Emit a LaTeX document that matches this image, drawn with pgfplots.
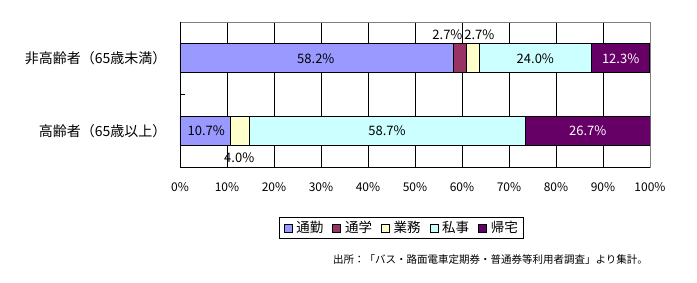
\documentclass[border=0pt]{standalone}
\usepackage{pgfplots}
\pgfplotsset{compat=1.18}
\usepackage{fontspec}
\setmainfont{Noto Sans CJK JP}
\definecolor{cA}{HTML}{9999FF}
\definecolor{cB}{HTML}{993366}
\definecolor{cC}{HTML}{FFFFCC}
\definecolor{cD}{HTML}{CCFFFF}
\definecolor{cE}{HTML}{660066}
\begin{document}
\begin{tikzpicture}
\useasboundingbox (0,0) rectangle (697pt,282pt);
\begin{axis}[
  at={(180pt,115pt)}, anchor=south west,
  scale only axis, width=470pt, height=145pt,
  xbar stacked, bar width=29pt,
  xmin=0, xmax=100, ymin=-0.5, ymax=1.5,
  xtick={0,10,...,90},
  extra x ticks={100}, extra x tick style={grid=none},
  xticklabel={\pgfmathprintnumber{\tick}\%},
  /pgf/number format/assume math mode=true,
  xticklabel style={font=\fontsize{12}{12}\selectfont, yshift=-12pt},
  xmajorgrids, grid style={black, line width=0.8pt},
  xtick style={draw=none},
  ytick={0,1},
  yticklabels={高齢者（65歳以上）, 非高齢者（65歳未満）},
  yticklabel style={font=\fontsize{14}{14}\selectfont, xshift=-10pt},
  ytick style={draw=none},
  axis line style={gray, line width=0.8pt},
  legend columns=5,
  legend style={at={(0.472,-0.42)}, anchor=center, draw=black, line width=0.8pt,
    font=\fontsize{13.5}{13.5}\selectfont, inner xsep=4pt, inner ysep=2pt,
    /tikz/every odd column/.append style={column sep=2pt},
    /tikz/every even column/.append style={column sep=7pt}},
  legend image code/.code={\draw[#1, draw=black, line width=0.6pt] (0pt,-4pt) rectangle (8pt,4pt);},
]
\addplot[fill=cA, draw=black, line width=0.8pt] coordinates {(58.2,1) (10.7,0)};
\addplot[fill=cB, draw=black, line width=0.8pt] coordinates {(2.7,1) (0,0)};
\addplot[fill=cC, draw=black, line width=0.8pt] coordinates {(2.7,1) (4.0,0)};
\addplot[fill=cD, draw=black, line width=0.8pt] coordinates {(24.0,1) (58.7,0)};
\addplot[fill=cE, draw=black, line width=0.8pt] coordinates {(12.3,1) (26.7,0)};
\legend{通勤, 通学, 業務, 私事, 帰宅}
\draw[black, line width=0.8pt] (rel axis cs:0,0) -- (rel axis cs:0,1);
\draw[black, line width=0.8pt] (rel axis cs:0,0) -- (rel axis cs:1,0);
\draw[black, line width=1pt] (axis cs:0,0.5) -- (axis cs:1,0.5);
\end{axis}
\begin{axis}[
  at={(180pt,115pt)}, anchor=south west,
  scale only axis, width=470pt, height=145pt,
  xmin=0, xmax=100, ymin=-0.5, ymax=1.5,
  hide axis, clip=false,
  /pgf/number format/assume math mode=true,
  point meta=explicit,
  nodes near coords={\pgfmathprintnumber[fixed,fixed zerofill,precision=1,assume math mode=true]{\pgfplotspointmeta}\%},
  every node near coord/.append style={anchor=center, font=\fontsize{13}{13}\selectfont},
]
\addplot[draw=none, mark=none] table[meta=v] {
x y v
28.9 1 58.2
56.9 1.325 2.7
63.7 1.325 2.7
75.6 1 24.0
5.6 0 10.7
12.6 -0.37 4.0
44.05 0 58.7
};
\addplot[draw=none, mark=none, every node near coord/.append style={text=white}] table[meta=v] {
x y v
93.75 1 12.3
86.75 0 26.7
};
\end{axis}
\node[anchor=east, inner sep=0pt, font=\fontsize{10.5}{10.5}\selectfont] at (648pt,22pt) {出所：「バス・路面電車定期券・普通券等利用者調査」より集計。};
\end{tikzpicture}
\end{document}
